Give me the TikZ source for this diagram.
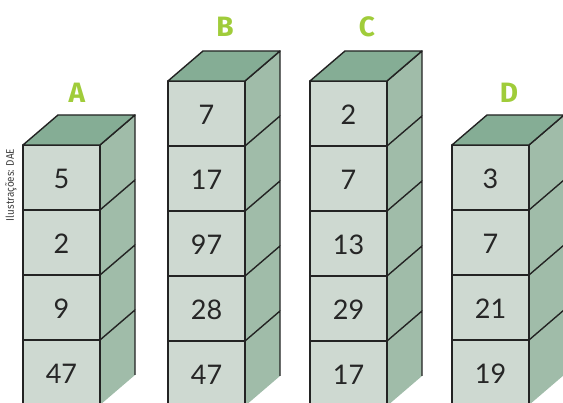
\documentclass[tikz,border=0pt]{standalone}
\usepackage{fontspec}
\setmainfont{Lato}
\newfontfamily\labelfont{Fira Sans}
\definecolor{frontcol}{RGB}{206,217,209}
\definecolor{sidecol}{RGB}{160,188,169}
\definecolor{topcol}{RGB}{133,173,149}
\definecolor{edgecol}{RGB}{35,35,35}
\definecolor{lettercol}{RGB}{160,204,58}
\tikzset{
  face/.style={draw=edgecol, line width=1.4pt, line join=round},
  numtext/.style={font=\fontsize{27}{27}\selectfont, text=black!85},
  stacklabel/.style={font=\labelfont\bfseries\fontsize{28}{28}\selectfont, text=lettercol},
  credit/.style={font=\labelfont\fontsize{11}{11}\selectfont, text=black!75, rotate=90, xscale=0.9}
}
% #1 name, #2 left x, #3 top y, #4 list of numbers
\newcommand{\cubestack}[4]{%
  \def\sw{77}\def\dx{35}\def\dy{30}\def\ch{65}%
  \foreach \v [count=\i from 0] in {#4} {
    \pgfmathsetmacro{\yt}{#3-\i*\ch}
    \pgfmathsetmacro{\yb}{\yt-\ch}
    \fill[sidecol] (#2+\sw,\yt) -- (#2+\sw+\dx,\yt+\dy) -- (#2+\sw+\dx,\yb+\dy) -- (#2+\sw,\yb) -- cycle;
    \draw[face] (#2+\sw,\yt) -- (#2+\sw+\dx,\yt+\dy) -- (#2+\sw+\dx,\yb+\dy);
    \draw[face, fill=frontcol] (#2,\yt) rectangle (#2+\sw,\yb);
    \node[numtext] (#1n\i) at (#2+\sw/2,\yt-\ch/2-1) {\v};
  }
  \draw[face, fill=topcol] (#2,#3) -- (#2+\dx,#3+\dy) -- (#2+\sw+\dx,#3+\dy) -- (#2+\sw,#3) -- cycle;
}
\begin{document}
\begin{tikzpicture}[x=1pt,y=1pt]
  \useasboundingbox (0,0) rectangle (563,403);
  \clip (0,0) rectangle (563,403);
  \cubestack{a}{23}{258}{5,2,9,47}
  \cubestack{b}{168}{322}{7,17,97,28,47}
  \cubestack{c}{310}{322}{2,7,13,29,17}
  \cubestack{d}{452}{258}{3,7,21,19}
  \node[stacklabel] (labA) at (77,310) {A};
  \node[stacklabel] (labB) at (225,376) {B};
  \node[stacklabel] (labC) at (367,376) {C};
  \node[stacklabel] (labD) at (509,310) {D};
  \node[credit] (creditlabel) at (11,218) {Ilustrações: DAE};
\end{tikzpicture}
\end{document}
